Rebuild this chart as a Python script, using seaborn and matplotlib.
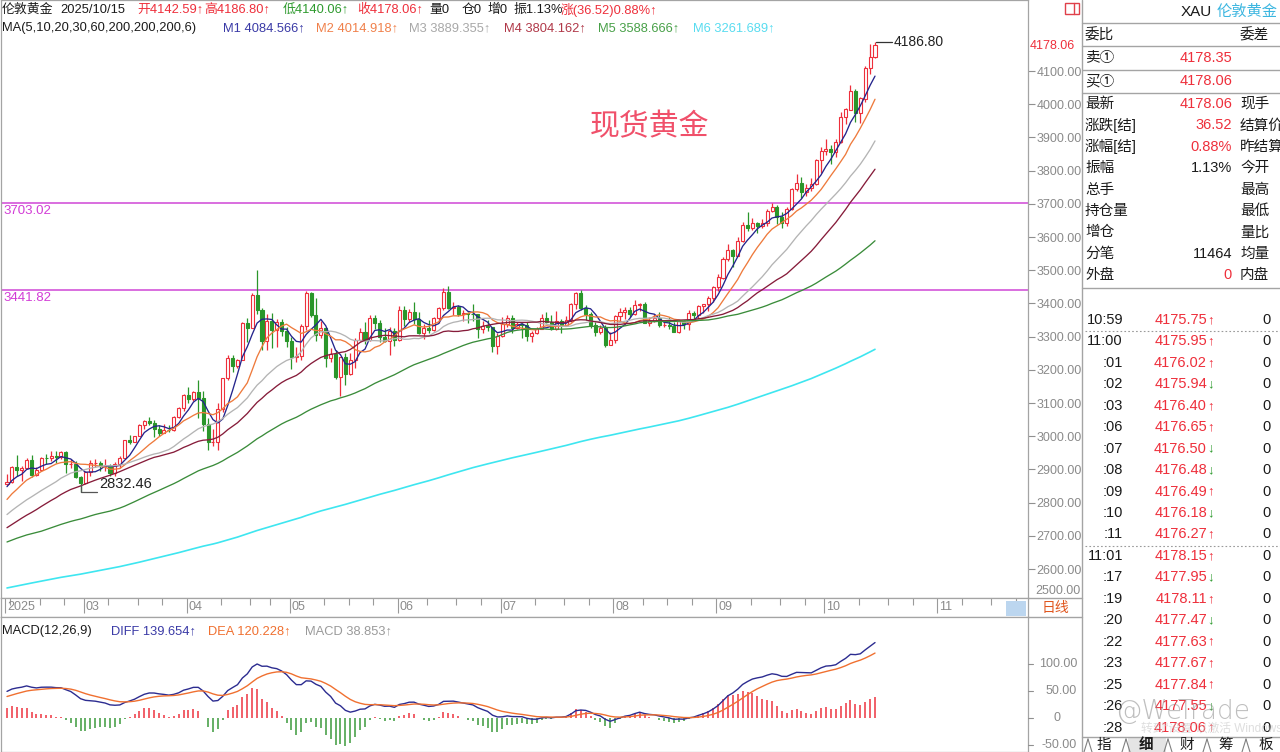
import numpy as np
import pandas as pd
import matplotlib
matplotlib.use("Agg")
import matplotlib.pyplot as plt
import seaborn as sns
from matplotlib.patches import Rectangle
from matplotlib.lines import Line2D

sns.set_theme(style="white")
plt.rcParams["font.family"] = ["Liberation Sans", "Noto Sans CJK SC", "DejaVu Sans"]
plt.rcParams["axes.unicode_minus"] = False

# ---------------------------------------------------------------- data
# daily closes May 2024 - Feb 6 2025 (warm-up for the averages and MACD)
pre_close = [
    2320, 2303, 2301, 2323, 2314, 2309, 2346, 2360, 2336, 2358, 2386, 2376, 2415, 2425, 2421, 2379, 2329, 2334, 2351, 2361, 2338, 2343, 2327,
    2350, 2327, 2355, 2375, 2294, 2311, 2316, 2324, 2303, 2333, 2319, 2329, 2327, 2360, 2322, 2334, 2319, 2298, 2327, 2326,
    2332, 2330, 2356, 2356, 2392, 2359, 2364, 2371, 2414, 2411, 2422, 2469, 2458, 2445, 2400, 2396, 2409, 2398, 2364, 2387, 2384, 2411, 2448,
    2446, 2443, 2410, 2390, 2382, 2427, 2431, 2473, 2465, 2447, 2456, 2508, 2504, 2514, 2512, 2485, 2512, 2518, 2524, 2504, 2520, 2503,
    2500, 2494, 2495, 2516, 2497, 2506, 2516, 2512, 2558, 2578, 2582, 2569, 2559, 2587, 2622, 2628, 2657, 2657, 2672, 2658, 2634,
    2663, 2659, 2656, 2653, 2644, 2622, 2608, 2630, 2657, 2649, 2662, 2674, 2693, 2721, 2720, 2748, 2716, 2736, 2747, 2743, 2774, 2787, 2744,
    2736, 2736, 2742, 2659, 2706, 2685, 2619, 2598, 2573, 2565, 2563, 2612, 2631, 2650, 2669, 2716, 2625, 2630, 2636, 2640, 2650,
    2640, 2643, 2650, 2632, 2633, 2660, 2694, 2718, 2681, 2648, 2652, 2646, 2587, 2594, 2622, 2613, 2617, 2633, 2621, 2606, 2624,
    2658, 2640, 2635, 2648, 2661, 2670, 2690, 2663, 2677, 2697, 2715, 2702, 2708, 2744, 2755, 2754, 2770, 2740, 2763, 2760, 2794, 2798,
    2815, 2842, 2866, 2856,
]

# displayed daily candles, 2025-02-07 .. 2025-10-15
dates = pd.bdate_range("2025-02-07", "2025-10-15").drop(pd.Timestamp("2025-04-18"))

open_ = [
    2856, 2861, 2908, 2898, 2904, 2928, 2883, 2898, 2935, 2933, 2939, 2936, 2951, 2915, 2916, 2876,
    2858, 2893, 2918, 2920, 2910, 2911, 2889, 2916, 2934, 2988, 2984, 3001, 3035, 3047, 3041, 3023, 3011, 3020, 3019, 3057, 3084,
    3124, 3113, 3134, 3114, 3037, 2982, 2983, 3083, 3175, 3237, 3211, 3230, 3342, 3327, 3424, 3381, 3288, 3346, 3319, 3343, 3317,
    3288, 3239, 3241, 3333, 3431, 3365, 3306, 3325, 3236, 3249, 3178, 3240, 3187, 3230, 3290, 3314, 3290, 3357, 3342, 3300, 3288, 3318,
    3289, 3381, 3352, 3373, 3353, 3310, 3325, 3319, 3355, 3386, 3433, 3385, 3388, 3369, 3370, 3368, 3367, 3323, 3332, 3328, 3273,
    3303, 3338, 3357, 3326, 3337, 3336, 3301, 3310, 3324, 3355, 3343, 3324, 3347, 3336, 3350, 3397, 3431, 3387, 3368, 3336, 3314, 3326, 3275,
    3289, 3363, 3373, 3380, 3368, 3396, 3398, 3341, 3348, 3355, 3335, 3336, 3332, 3315, 3347, 3339, 3371, 3365, 3393, 3397, 3416,
    3448, 3478, 3533, 3560, 3544, 3587, 3636, 3626, 3641, 3633, 3643, 3679, 3690, 3659, 3643, 3684, 3746, 3764, 3736, 3749, 3759, 3833,
    3858, 3866, 3856, 3886, 3960, 3984, 4039, 3975, 4017, 4110, 4142.59,
]
high = [
    2886, 2911, 2942, 2910, 2934, 2943, 2906, 2938, 2947, 2955, 2954, 2956, 2956, 2930, 2924, 2880,
    2894, 2928, 2930, 2926, 2930, 2916, 2923, 2941, 2990, 3005, 3002, 3038, 3049, 3057, 3048, 3035, 3036, 3033, 3060, 3087, 3128,
    3149, 3136, 3168, 3136, 3055, 3023, 3099, 3176, 3245, 3245, 3233, 3344, 3357, 3430, 3500, 3386, 3367, 3371, 3352, 3353, 3328,
    3300, 3270, 3337, 3437, 3435, 3415, 3348, 3328, 3265, 3259, 3240, 3252, 3250, 3296, 3325, 3345, 3366, 3365, 3350, 3325, 3330, 3325,
    3392, 3392, 3384, 3403, 3375, 3338, 3349, 3360, 3390, 3446, 3451, 3403, 3396, 3380, 3374, 3398, 3369, 3348, 3350, 3329, 3310,
    3358, 3365, 3365, 3344, 3342, 3345, 3318, 3330, 3369, 3375, 3366, 3377, 3353, 3361, 3402, 3433, 3439, 3394, 3373, 3345, 3334, 3334, 3315,
    3364, 3385, 3390, 3390, 3409, 3400, 3404, 3358, 3369, 3375, 3346, 3358, 3345, 3350, 3351, 3379, 3376, 3394, 3399, 3423, 3453,
    3490, 3540, 3578, 3565, 3600, 3646, 3674, 3658, 3644, 3655, 3685, 3703.02, 3697, 3675, 3690, 3749, 3791, 3780, 3761, 3779, 3835, 3872,
    3895, 3876, 3896, 3977, 3990, 4059, 4045, 4022, 4116, 4180, 4186.80,
]
low = [
    2853, 2860, 2880, 2864, 2900, 2877, 2881, 2894, 2916, 2925, 2919, 2930, 2890, 2904, 2873, 2832.46,
    2857, 2880, 2907, 2894, 2896, 2880, 2880, 2905, 2931, 2978, 2982, 3000, 3021, 3034, 2999, 3002, 3011, 3013, 3016, 3054, 3076,
    3100, 3105, 3054, 3015, 2957, 2970, 2957, 3072, 3168, 3194, 3205, 3229, 3284, 3325, 3367, 3260, 3260, 3265, 3269, 3301, 3268,
    3202, 3223, 3230, 3320, 3360, 3286, 3296, 3207, 3222, 3172, 3121, 3154, 3184, 3204, 3286, 3277, 3287, 3324, 3285, 3285, 3245, 3271,
    3287, 3333, 3345, 3338, 3307, 3293, 3311, 3316, 3340, 3380, 3383, 3366, 3362, 3347, 3340, 3348, 3295, 3311, 3318, 3255, 3247,
    3298, 3328, 3311, 3322, 3297, 3287, 3283, 3309, 3322, 3341, 3320, 3319, 3310, 3331, 3345, 3383, 3381, 3351, 3325, 3301, 3308, 3268, 3274,
    3281, 3346, 3352, 3358, 3366, 3377, 3340, 3331, 3343, 3330, 3330, 3323, 3314, 3311, 3324, 3321, 3351, 3354, 3370, 3378, 3404,
    3436, 3475, 3527, 3511, 3543, 3584, 3619, 3620, 3613, 3626, 3633, 3674, 3640, 3628, 3633, 3682, 3738, 3717, 3722, 3740, 3757, 3793,
    3848, 3820, 3842, 3884, 3940, 3983, 3945, 3944, 4006, 4090, 4140.06,
]
close = [
    2861, 2908, 2898, 2904, 2928, 2883, 2898, 2935, 2933, 2939, 2936, 2951, 2915, 2916, 2876, 2858,
    2893, 2918, 2920, 2910, 2911, 2889, 2916, 2934, 2988, 2984, 3001, 3035, 3047, 3041, 3023, 3011, 3020, 3019, 3057, 3084, 3124,
    3113, 3134, 3114, 3037, 2982, 2983, 3083, 3175, 3237, 3211, 3230, 3342, 3327, 3424, 3381, 3288, 3346, 3319, 3343, 3317, 3288,
    3239, 3241, 3333, 3431, 3365, 3306, 3325, 3236, 3249, 3178, 3240, 3187, 3230, 3290, 3314, 3290, 3357, 3342, 3300, 3288, 3318, 3289,
    3381, 3352, 3373, 3353, 3310, 3325, 3319, 3355, 3386, 3433, 3385, 3388, 3369, 3370, 3368, 3367, 3323, 3332, 3328, 3273, 3303,
    3338, 3357, 3326, 3337, 3336, 3301, 3309.84, 3324, 3355, 3343, 3324, 3347, 3336, 3350, 3397, 3431, 3387, 3368, 3336, 3314, 3326, 3275, 3289,
    3363, 3373, 3380, 3368, 3396, 3398, 3341, 3348, 3355, 3335, 3336, 3332, 3315, 3347, 3339, 3371, 3365, 3393, 3397, 3416, 3448,
    3478.10, 3533, 3560, 3544, 3587, 3636, 3626, 3641, 3633, 3643, 3679, 3690, 3658.76, 3643, 3683.92, 3746, 3764, 3736, 3749, 3759, 3833, 3858,
    3866, 3856.50, 3886.10, 3960.25, 3984.50, 4039.00, 3975.00, 4017.28, 4109.90, 4142.59, 4178.06,
]

ma_periods = [5, 10, 20, 30, 60, 200]
ma_colors = ["#24248c", "#ee7a3c", "#b4b4b4", "#861c3a", "#3a8c3a", "#3ee6f0"]
ma_label_colors = ["#3a3aa6", "#f0804a", "#a8a8a8", "#b03848", "#48a048", "#58dcf0"]
ma_labels = ["M1 4084.566\u2191", "M2 4014.918\u2191", "M3 3889.355\u2191",
             "M4 3804.162\u2191", "M5 3588.666\u2191", "M6 3261.689\u2191"]
macd_labels = ["DIFF 139.654\u2191", "DEA 120.228\u2191", "MACD 38.853\u2191"]

levels = [3703.02, 3441.82]

month_names = ["2025", "03", "04", "05", "06", "07", "08", "09", "10", "11"]

quote_rows = [("最新", "4178.06", "r", "现手"), ("涨跌[结]", "36.52", "r", "结算价"),
              ("涨幅[结]", "0.88%", "r", "昨结算"), ("振幅", "1.13%", "k", "今开"),
              ("总手", "", "k", "最高"), ("持仓量", "", "k", "最低"),
              ("增仓", "", "k", "量比"), ("分笔", "11464", "k", "均量"),
              ("外盘", "0", "r", "内盘")]

tick_times = ["10:59", "11:00", ":01", ":02", ":03", ":06", ":07", ":08", ":09", ":10", ":11",
              "11:01", ":17", ":19", ":20", ":22", ":23", ":25", ":26", ":28"]
tick_prices = ["4175.75", "4175.95", "4176.02", "4175.94", "4176.40", "4176.65", "4176.50",
               "4176.48", "4176.49", "4176.18", "4176.27", "4178.15", "4177.95", "4178.11",
               "4177.47", "4177.63", "4177.67", "4177.84", "4177.55", "4178.06"]
tick_dirs = ["u", "u", "u", "d", "u", "u", "d", "d", "u", "d", "u",
             "u", "d", "u", "d", "u", "u", "u", "d", "u"]
tick_vols = ["0"] * 20

# ---------------------------------------------------------------- derived
o = np.array(open_, float)
h = np.array(high, float)
l = np.array(low, float)
c = np.array(close, float)
n = len(c)
assert len(o) == len(h) == len(l) == n == len(dates)
idx = np.arange(n)

full = pd.Series(np.r_[np.array(pre_close, float), c])
mas = [full.rolling(p).mean().to_numpy()[-n:] for p in ma_periods]
ema12 = full.ewm(span=12, adjust=False).mean()
ema26 = full.ewm(span=26, adjust=False).mean()
diff = (ema12 - ema26)
dea = diff.ewm(span=9, adjust=False).mean()
macd = 2 * (diff - dea)
diff, dea, macd = diff.to_numpy()[-n:], dea.to_numpy()[-n:], macd.to_numpy()[-n:]

# ---------------------------------------------------------------- figure
W, H = 1280, 752
fig = plt.figure(figsize=(W / 100, H / 100), dpi=100)
fig.patch.set_facecolor("white")

RED = "#ee2f3b"
GREEN = "#2a962a"
GRID = "#a4a4a4"
AXTXT = "#8a8a8a"


def fx(x):
    return x / W


def fy(y):
    return 1 - y / H


def axes_px(x0, y0, x1, y1):
    return fig.add_axes([fx(x0), fy(y1), (x1 - x0) / W, (y1 - y0) / H])


def ptext(x, y, s, color="#1a1a1a", size=10, ha="left", va="center", **kw):
    return fig.text(fx(x), fy(y), s, color=color, fontsize=size, ha=ha, va=va, **kw)


def pline(x0, y0, x1, y1, color=GRID, lw=1.0, ls="-"):
    fig.add_artist(Line2D([fx(x0), fx(x1)], [fy(y0), fy(y1)], color=color, lw=lw,
                          ls=ls, transform=fig.transFigure))


X0_PX, STEP = 7.0, 4.904
AX_L, AX_R = 1, 1028
xlim = ((AX_L - X0_PX) / STEP, (AX_R - X0_PX) / STEP)
PY_REF, P_REF, PX_PER = 71.0, 4100.0, 0.332


def price_at(ypx):
    return P_REF - (ypx - PY_REF) / PX_PER


def style_frame(ax):
    for s in ax.spines.values():
        s.set_color(GRID)
        s.set_linewidth(0.9)
    ax.set_facecolor("white")


# ---- price panel
ax = axes_px(AX_L, 0, AX_R, 598)
style_frame(ax)
ax.set_xlim(*xlim)
ax.set_ylim(price_at(598), price_at(0))

for lv in levels:
    ax.axhline(lv, color="#d046d6", lw=1.1, zorder=2)
    ax.text(xlim[0] + 0.4, lv - 6, f"{lv:.2f}", color="#d23cd6", fontsize=9.5,
            ha="left", va="top", zorder=6)

up = c >= o
edge = np.where(up, RED, GREEN)
ax.vlines(idx, l, h, colors=edge, lw=0.9, zorder=3)
body = np.maximum(np.abs(c - o), 0.9)
ax.bar(idx, body, bottom=np.minimum(o, c), width=0.62,
       color=np.where(up, "white", GREEN), edgecolor=edge, linewidth=0.8, zorder=4)

for ma, col, p in zip(mas, ma_colors, ma_periods):
    sns.lineplot(x=idx, y=ma, ax=ax, color=col, lw=1.2 if p == 200 else 0.95, zorder=5)

# high / low markers
ih, il = int(np.argmax(h)), int(np.argmin(l))
ax.plot([ih + 0.3, ih + 3.5], [h[ih], h[ih]], color="#333333", lw=0.9, zorder=6)
ax.text(ih + 3.8, h[ih], f"{h[ih]:.2f}", fontsize=10, color="#222222", ha="left", va="center")
ax.plot([il, il, il + 3.4], [l[il] + 22, l[il], l[il]], color="#555555", lw=0.9, zorder=6)
ax.text(il + 3.8, l[il] + 24, f"{l[il]:.2f}", fontsize=10.5, color="#222222",
        ha="left", va="center")

ax.text(0.631, price_at(127), "现货黄金", transform=ax.get_yaxis_transform(),
        fontsize=21.5, color="#f0506a", ha="center", va="center", family="Noto Sans CJK SC")

ax.set_xticks([])
ax.yaxis.tick_right()
yt = np.arange(2600, 4101, 100)
ax.set_yticks(yt)
ax.set_yticklabels([f"{v:.2f}" for v in yt])
ax.tick_params(axis="y", right=True, length=5, width=0.8, color="#909090",
               labelcolor=AXTXT, labelsize=9, pad=1, direction="out")
ax.set_xlabel("")
ax.set_ylabel("")
ptext(1035, 591, "2500.00", color=AXTXT, size=9)
ptext(1030, 46, f"{c[-1]:.2f}", color=RED, size=9)

# ---- header lines
hdr1 = [(2, "伦敦黄金", "#1a1a1a"), (60, "2025/10/15", "#1a1a1a"),
        (137, "开4142.59\u2191", RED), (204, "高4186.80\u2191", RED),
        (283, "低4140.06\u2191", "#2e9a2e"), (357, "收4178.06\u2191", RED),
        (429, "量0", "#1a1a1a"), (462, "仓0", "#1a1a1a"), (488, "增0", "#1a1a1a"),
        (513, "振1.13%", "#1a1a1a"), (561, "涨(36.52)0.88%\u2191", RED)]
for x, s, col in hdr1:
    ptext(x, 10, s, color=col, size=9.3)
ptext(2, 28, "MA(5,10,20,30,60,200,200,200,6)", size=9.3)
for x, s, col in zip([223, 316, 409, 504, 598, 693], ma_labels, ma_label_colors):
    ptext(x, 28, s, color=col, size=9.3)

# ---- date strip
strip = axes_px(AX_L, 598, AX_R, 617)
style_frame(strip)
strip.set_xlim(*xlim)
strip.set_ylim(0, 1)
strip.set_xticks([])
strip.set_yticks([])
cal = pd.bdate_range("2025-02-07", "2025-12-31").drop(pd.Timestamp("2025-04-18"))
starts = [0] + [i for i in range(1, len(cal)) if cal[i].month != cal[i - 1].month]
starts = [s for s in starts if s < xlim[1]][:len(month_names)]
for s, name in zip(starts, month_names):
    strip.vlines(s - 0.35, 0.2, 1, color="#9a9a9a", lw=0.8)
    strip.text(s + 0.05, 0.5, name, color=AXTXT, fontsize=9, ha="left", va="center")
minor = []
for m in sorted(set((d.year, d.month) for d in cal)):
    pos = [i for i, d in enumerate(cal) if (d.year, d.month) == m]
    for day in (10, 18, 25):
        cand = [i for i in pos if cal[i].day >= day]
        if cand and cand[0] < xlim[1] - 1:
            minor.append(cand[0])
strip.vlines(np.array(minor) - 0.35, 0.62, 1, color="#9a9a9a", lw=0.8)
fig.add_artist(Rectangle((fx(1006), fy(616)), 20 / W, 15 / H, transform=fig.transFigure,
                         facecolor="#bcd6ef", edgecolor="none"))
ptext(1055, 608, "日线", color="#e0561e", size=10, ha="center")

# ---- MACD panel
ax2 = axes_px(AX_L, 617, AX_R, 752)
style_frame(ax2)
ax2.set_xlim(*xlim)
ax2.set_ylim(-63, 187)
ax2.vlines(idx, 0, macd, colors=np.where(macd >= 0, "#ee3440", "#3c9a3c"), lw=1.1, zorder=2)
sns.lineplot(x=idx, y=diff, ax=ax2, color="#2c2c90", lw=1.0, zorder=3)
sns.lineplot(x=idx, y=dea, ax=ax2, color="#f07030", lw=1.0, zorder=3)
ax2.set_xticks([])
ax2.set_yticks([])
ax2.set_xlabel("")
ax2.set_ylabel("")
for v, s in [(100, "100.00"), (50, "50.00"), (0, "0"), (-50, "-50.00")]:
    yy = 718 - v * 0.54
    pline(1028, yy, 1033, yy, color="#909090", lw=0.8)
    if s == "0":
        ptext(1057, yy, s, color=AXTXT, size=9, ha="center")
    else:
        ptext(1077, yy, s, color=AXTXT, size=9, ha="right")
ptext(2, 631, "MACD(12,26,9)", size=9.3)
for x, s, col in zip([111, 208, 305], macd_labels, ["#3a3aa6", "#f07030", "#9a9a9a"]):
    ptext(x, 631, s, color=col, size=9.3)

# ---- right-hand quote panel
pline(1082, 0, 1082, 752)
pline(1028, 598, 1082, 598)
pline(1028, 617, 1082, 617)
fig.add_artist(Rectangle((fx(1065), fy(14)), 14 / W, 11 / H, transform=fig.transFigure,
                         facecolor="white", edgecolor="#e0404a", lw=1.0))
pline(1074, 3, 1074, 14, color="#e0404a", lw=1.0)

ptext(1181, 12, "XAU", size=11)
ptext(1217, 12, "伦敦黄金", color="#3cb6e0", size=11)
for yy in (23, 46, 70, 93, 288):
    pline(1082, yy, 1280, yy)
ptext(1085, 35, "委比", size=10.5)
ptext(1240, 35, "委差", size=10.5)
ptext(1085, 58, "卖\u2460", size=10.5)
ptext(1232, 58, "4178.35", color=RED, size=10.5, ha="right")
ptext(1085, 81, "买\u2460", size=10.5)
ptext(1232, 81, "4178.06", color=RED, size=10.5, ha="right")
for k, (lab, val, vc, lab2) in enumerate(quote_rows):
    yy = 104 + k * 21.4
    ptext(1085, yy, lab, size=10.5)
    if val:
        ptext(1232, yy, val, color=RED if vc == "r" else "#1a1a1a", size=10.5, ha="right")
    ptext(1240, yy, lab2, size=10.5)

for k, (t, p, d, v) in enumerate(zip(tick_times, tick_prices, tick_dirs, tick_vols)):
    yy = 320 + k * 21.45
    ptext(1123, yy, t, size=10.5, ha="right")
    ptext(1207, yy, p, color=RED, size=10.5, ha="right")
    ptext(1207, yy, "\u2191" if d == "u" else "\u2193",
          color=RED if d == "u" else "#2e9a2e", size=9.5)
    ptext(1271, yy, v, size=10.5, ha="right")
pline(1085, 331, 1280, 331, color="#9a9a9a", lw=0.8, ls=(0, (1.5, 2)))
pline(1085, 546, 1280, 546, color="#9a9a9a", lw=0.8, ls=(0, (1.5, 2)))

# faint overlays in the lower right corner
ptext(1141, 729, "转到\u201c设置\u201d以激活 Windows。", color="#c8c8c8", size=8.5, alpha=0.6)
ptext(1183, 712, "@WeTrade", color="#8a8a8a", size=19, ha="center", alpha=0.55,
      family="DejaVu Sans", fontweight="light")

# bottom tab bar
pline(1082, 737, 1280, 737)
fig.add_artist(Rectangle((fx(1128), fy(752)), 38 / W, 14 / H, transform=fig.transFigure,
                         facecolor="#e4e4e4", edgecolor="none"))
for x, s, bold in [(1104, "指", False), (1146, "细", True), (1187, "财", False),
                   (1226, "筹", False), (1266, "板", False)]:
    ptext(x, 745, s, size=10.5, ha="center", fontweight="bold" if bold else "normal")
for x in (1084, 1122, 1164, 1203, 1242):
    pline(x, 752, x + 4, 739, color="#808080", lw=0.8)
    pline(x + 4, 739, x + 8, 752, color="#808080", lw=0.8)

fig.savefig("out.png", dpi=100, facecolor="white")
